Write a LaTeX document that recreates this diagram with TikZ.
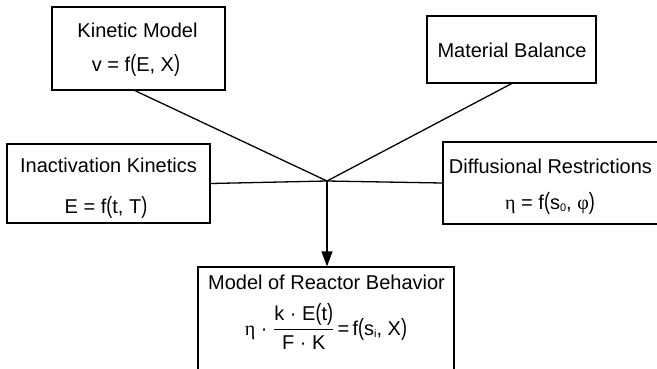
\documentclass[tikz,border=0pt]{standalone}
\usepackage{fontspec}
\usepackage{amsmath}
\usepackage{graphicx}
\setmainfont{Liberation Sans}
\newfontfamily\grk{Liberation Serif}
\usetikzlibrary{arrows.meta}
% small lowered index for s_0, s_i
\newcommand{\lowidx}[1]{\raisebox{-0.25ex}{\fontsize{11}{11}\selectfont #1}}
% slightly taller, lighter brackets for the formulas
\newcommand{\lpar}{\scalebox{0.9}[1.18]{(}}
\newcommand{\rpar}{\scalebox{0.9}[1.18]{)}}

\begin{document}
\begin{tikzpicture}[x=1pt, y=-1pt,
  box/.style={draw, line width=1.3pt, inner sep=0pt},
  txt/.style={anchor=base, inner sep=0pt, font=\fontsize{20}{24}\selectfont},
  link/.style={line width=1.3pt},
  feed/.style={line width=1.3pt, -{Triangle[length=15pt, width=11pt]}}]

  \useasboundingbox (0,0) rectangle (657,368);

  % boxes
  \node[box, minimum width=173, minimum height=83] (kin)   at (138.5,48.5) {};
  \node[box, minimum width=169, minimum height=67] (mat)   at (511.5,49.5) {};
  \node[box, minimum width=203, minimum height=79] (inact) at (108.5,183.5) {};
  \node[box, minimum width=227, minimum height=82] (diff)  at (556.5,183) {};
  \node[box, minimum width=256, minimum height=123] (model) at (326,328.5) {};

  % texts
  \node[txt] (kinT)   at (137.5,37) {Kinetic Model};
  \node[txt] (kinE)   at (136,71)   {v = f\lpar E, X\rpar};
  \node[txt] (matT)   at (512,57)   {Material Balance};
  \node[txt] (inactT) at (108.5,172) {Inactivation Kinetics};
  \node[txt] (inactE) at (106,213)  {E = f\lpar t, T\rpar};
  \node[txt] (diffT)  at (550.5,173) {Diffusional Restrictions};
  \node[txt] (diffE)  at (550,209)  {{\grk η} = f\lpar s\lowidx{0}, {\grk φ}\rpar};
  \node[txt] (modelT) at (326.5,289) {Model of Reactor Behavior};
  \node[txt] (modelE) at (326,335)
    {{\grk η}\ ·\ \ensuremath{\genfrac{}{}{1.1pt}{0}{\mbox{k · E\lpar t\rpar}}{\mbox{F · K}}}\,=\,f\lpar s\lowidx{i}, X\rpar};

  % junction of the four inputs
  \coordinate (j) at (327,181);

  \draw[link] ([xshift=-3.5pt]kin.south) -- (j);
  \draw[link] (mat.south) -- (j);
  \draw[link] (inact.east) -- (j);
  \draw[link] (diff.west) -- (j);
  \draw[feed] (j) -- (j |- model.north);
\end{tikzpicture}
\end{document}
